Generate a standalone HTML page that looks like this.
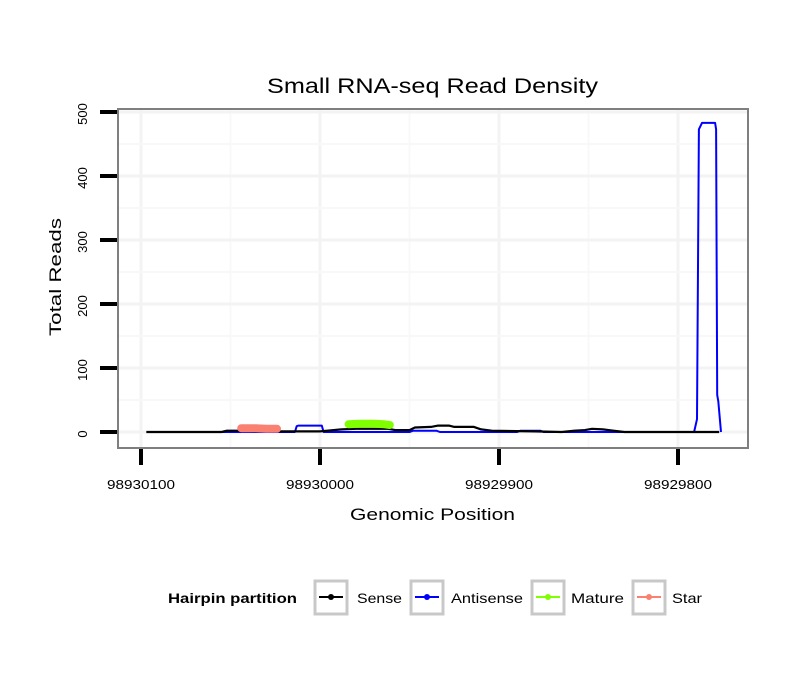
<!DOCTYPE html>
<html><head><meta charset="utf-8">
<style>
body{margin:0;background:#fff;font-family:"Liberation Sans",sans-serif;}
svg text{font-family:"Liberation Sans",sans-serif;}
</style></head>
<body>
<svg id="chart" width="810" height="690" xmlns="http://www.w3.org/2000/svg">
<rect width="810" height="690" fill="#fff"/>
<text x="267" y="93" font-size="21" textLength="331" lengthAdjust="spacingAndGlyphs">Small RNA-seq Read Density</text>
<g id="grid"></g>
<g id="series"></g>
<rect x="118" y="109" width="630" height="339" fill="none" stroke="#7f7f7f" stroke-width="2"/>
<g id="axes"></g>
<text x="350" y="520" font-size="17" textLength="165" lengthAdjust="spacingAndGlyphs">Genomic Position</text>
<text transform="translate(61,336) rotate(-90)" font-size="17" textLength="118" lengthAdjust="spacingAndGlyphs">Total Reads</text>
<g>
<text x="168" y="603" font-size="14" font-weight="bold" textLength="129" lengthAdjust="spacingAndGlyphs">Hairpin partition</text>
<g><rect x="315" y="581" width="32" height="33" fill="#fff" stroke="#c8c8c8" stroke-width="3"/><line x1="319" y1="597" x2="343" y2="597" stroke="#000" stroke-width="2"/><circle cx="331" cy="597" r="3" fill="#000"/><text x="357" y="603" font-size="14" textLength="45" lengthAdjust="spacingAndGlyphs">Sense</text></g>
<g><rect x="411" y="581" width="32" height="33" fill="#fff" stroke="#c8c8c8" stroke-width="3"/><line x1="415" y1="597" x2="439" y2="597" stroke="#0000ff" stroke-width="2"/><circle cx="427" cy="597" r="3" fill="#0000ff"/><text x="451" y="603" font-size="14" textLength="72" lengthAdjust="spacingAndGlyphs">Antisense</text></g>
<g><rect x="532" y="581" width="32" height="33" fill="#fff" stroke="#c8c8c8" stroke-width="3"/><line x1="536" y1="597" x2="560" y2="597" stroke="#7fff00" stroke-width="2"/><circle cx="548" cy="597" r="3" fill="#7fff00"/><text x="571" y="603" font-size="14" textLength="53" lengthAdjust="spacingAndGlyphs">Mature</text></g>
<g><rect x="633" y="581" width="32" height="33" fill="#fff" stroke="#c8c8c8" stroke-width="3"/><line x1="637" y1="597" x2="661" y2="597" stroke="#fa8072" stroke-width="2"/><circle cx="649" cy="597" r="3" fill="#fa8072"/><text x="672" y="603" font-size="14" textLength="30" lengthAdjust="spacingAndGlyphs">Star</text></g>
</g>
</svg>
<script>
const xTicks=[98930100,98930000,98929900,98929800];
const xTickLabels=["98930100","98930000","98929900","98929800"];
const yTicks=[0,100,200,300,400,500];
const yTickLabels=["0","100","200","300","400","500"];
const senseData=[[98930097,0],[98930055,0],[98930052,2],[98930040,2],[98930036,1],[98930000,1],[98929996,2],[98929988,4],[98929980,5],[98929962,5],[98929958,3],[98929950,3],[98929947,7],[98929938,8],[98929934,10],[98929928,10],[98929925,8],[98929914,8],[98929910,4],[98929904,2],[98929880,1],[98929865,0],[98929858,2],[98929852,3],[98929848,5],[98929842,4],[98929836,2],[98929830,0],[98929777,0]];
const antisenseData=[[98930097,0],[98930014,0],[98930013,9],[98930012,10],[98929999,10],[98929998,0],[98929950,0],[98929948,2],[98929935,2],[98929933,0],[98929890,0],[98929888,2],[98929877,2],[98929875,0],[98929791,0],[98929789.4,20],[98929788.3,473],[98929786.6,483],[98929779.3,483],[98929778.7,473],[98929778.1,58],[98929777.5,48],[98929776,0]];
const matureData=[[98929984,12],[98929978,13],[98929970,13],[98929964,12],[98929961,11]];
const starData=[[98930044,6],[98930036,6],[98930030,5],[98930024,5]];
const NS="http://www.w3.org/2000/svg";
function xs(p){return 141+(98930100-p)*1.79;}
function ys(v){return 432-v*0.64;}
function mk(t,a,parent){const e=document.createElementNS(NS,t);for(const k in a)e.setAttribute(k,a[k]);parent.appendChild(e);return e;}
const grid=document.getElementById('grid'),axes=document.getElementById('axes'),series=document.getElementById('series');
xTicks.forEach((t,i)=>{
 const g=mk('line',{x1:xs(t),x2:xs(t),y1:110,y2:447,stroke:'#f3f3f3','stroke-width':3},grid);
 
 
 if(i<xTicks.length-1){const m=(xs(t)+xs(xTicks[i+1]))/2;const gm=mk('line',{x1:m,x2:m,y1:110,y2:447,stroke:'#f8f8f8','stroke-width':2},grid);
 
 }
 const tk=mk('line',{x1:xs(t),x2:xs(t),y1:449,y2:465,stroke:'#000','stroke-width':4},axes);
 
 
 const tl=mk('text',{x:xs(t)-34,y:489,'font-size':13,textLength:68,lengthAdjust:'spacingAndGlyphs'},axes);tl.textContent=xTickLabels[i];
 
 
});
yTicks.forEach((t,i)=>{
 const g=mk('line',{x1:119,x2:747,y1:ys(t),y2:ys(t),stroke:'#f3f3f3','stroke-width':3},grid);
 
 
 const m=ys(t+50);if(m>110){const gm=mk('line',{x1:119,x2:747,y1:m,y2:m,stroke:'#f8f8f8','stroke-width':2},grid);
 
 }
 const tk=mk('line',{x1:100,x2:117,y1:ys(t),y2:ys(t),stroke:'#000','stroke-width':4},axes);
 
 
 const tl=mk('text',{transform:`translate(87,${ys(t)+2}) rotate(-90)`,'font-size':13,'text-anchor':'middle'},axes);tl.textContent=yTickLabels[i];
 
 
});
function path(d){return d.map((p,i)=>(i?'L':'M')+xs(p[0]).toFixed(1)+','+ys(p[1]).toFixed(1)).join('');}
const a=mk('path',{d:path(antisenseData),fill:'none',stroke:'#0000ff','stroke-width':2,'stroke-linejoin':'round'},series);


const s=mk('path',{d:path(senseData),fill:'none',stroke:'#000','stroke-width':2.2,'stroke-linejoin':'round'},series);


const mt=mk('path',{d:path(matureData),fill:'none',stroke:'#7fff00','stroke-width':8,'stroke-linecap':'round','stroke-linejoin':'round'},series);


const st=mk('path',{d:path(starData),fill:'none',stroke:'#fa8072','stroke-width':8,'stroke-linecap':'round','stroke-linejoin':'round'},series);


</script>
</body></html>
